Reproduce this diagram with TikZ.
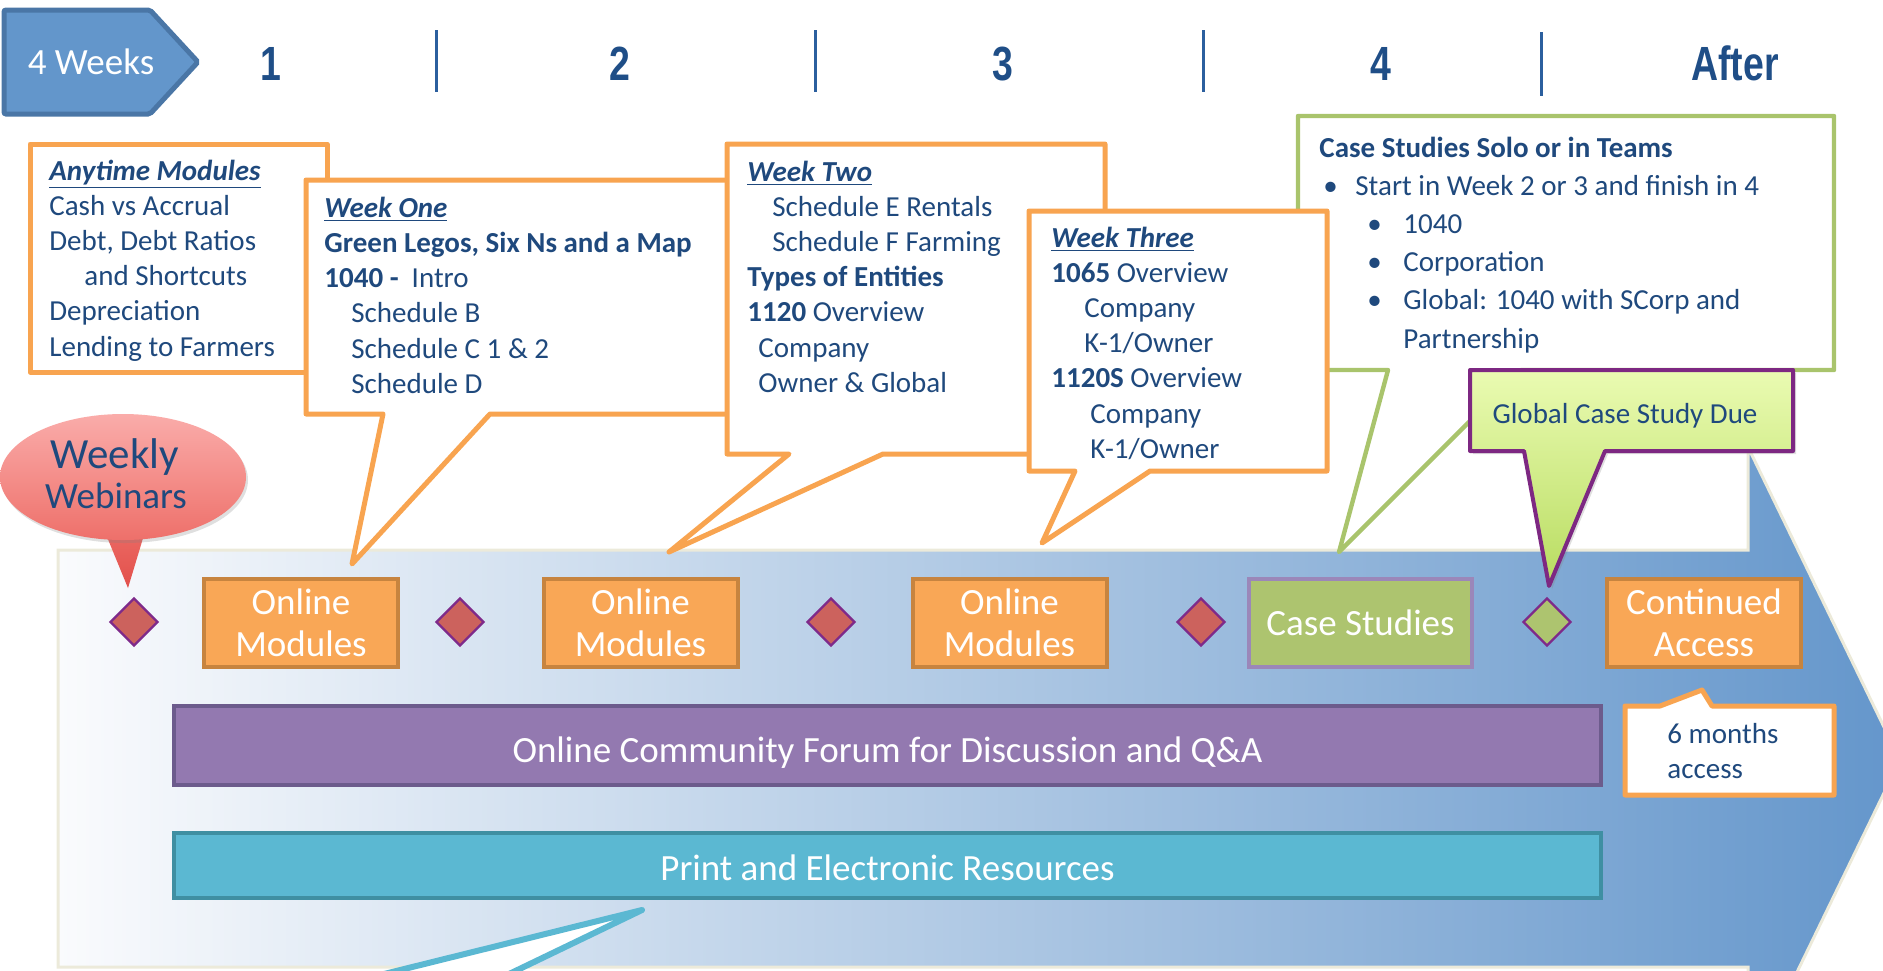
\documentclass[tikz,border=0pt]{standalone}
\usepackage{fontspec}
\setmainfont{Carlito}
\newfontfamily\hdfont{Liberation Sans}
\usetikzlibrary{shapes.geometric}
\usetikzlibrary{shadows}
\definecolor{navytext}{RGB}{31,73,125}
\definecolor{hdblue}{RGB}{31,78,135}
\definecolor{sepblue}{RGB}{43,95,158}
\definecolor{calorange}{RGB}{248,164,80}
\definecolor{calgreen}{RGB}{169,196,108}
\definecolor{modfill}{RGB}{249,167,86}
\definecolor{moddraw}{RGB}{199,132,63}
\definecolor{casefill}{RGB}{173,196,111}
\definecolor{casedraw}{RGB}{155,135,185}
\definecolor{gemfill}{RGB}{204,98,93}
\definecolor{gemdraw}{RGB}{126,42,138}
\definecolor{forumfill}{RGB}{147,121,176}
\definecolor{forumdraw}{RGB}{108,91,140}
\definecolor{resfill}{RGB}{91,184,210}
\definecolor{resdraw}{RGB}{63,143,162}
\definecolor{wkfill}{RGB}{99,150,203}
\definecolor{wkdraw}{RGB}{74,118,166}
\definecolor{duedraw}{RGB}{125,40,130}
\definecolor{duetop}{RGB}{234,251,178}
\definecolor{duebot}{RGB}{184,220,96}
\definecolor{webtop}{RGB}{250,172,170}
\definecolor{webmid}{RGB}{238,112,106}
\definecolor{webbot}{RGB}{226,80,75}
\definecolor{arrowedge}{RGB}{236,234,218}
\definecolor{arrowleft}{RGB}{250,251,253}
\definecolor{arrowright}{RGB}{100,150,203}
\tikzset{
  boxtext/.style = {anchor=base west, inner sep=0pt, text=navytext, font=\fontsize{14.5}{17}\selectfont},
  bubble/.style = {draw=calorange, line width=2.5pt, line join=round, fill=white},
  module/.style = {draw=moddraw, fill=modfill, line width=2pt, text=white, align=center,
                   minimum width=97pt, minimum height=44pt, inner sep=0pt, font=\fontsize{18.5}{21}\selectfont},
  gem/.style = {diamond, aspect=1, draw=gemdraw, fill=gemfill, line width=1.2pt,
                minimum width=24pt, minimum height=24pt, inner sep=0pt},
  fullbar/.style = {line width=2pt, text=white, minimum width=713.5pt, inner sep=0pt, font=\fontsize{18.5}{21}\selectfont},
  weeknum/.style = {anchor=base, text=hdblue, font=\hdfont\bfseries\fontsize{24}{24}\selectfont},
  weeksep/.style = {draw=sepblue, line width=1.5pt},
}

\begin{document}
\begin{tikzpicture}[x=0.5pt, y=-0.5pt]
    \useasboundingbox (0,0) rectangle (1883,970);
    \clip (0,0) rectangle (1883,970);

    \path[draw=wkdraw, fill=wkfill, line width=2.5pt, rounded corners=1pt] (4,10) -- (150,10) -- (198,62) -- (150,114) -- (4,114) -- cycle;
    \node[anchor=base, text=white, font=\fontsize{18.5}{21}\selectfont] (weeks) at (91,74) {4 Weeks};
    \node[weeknum] (h1) at (271,80) {\scalebox{0.78}[1]{1}};
    \node[weeknum] (h2) at (620,80) {\scalebox{0.78}[1]{2}};
    \node[weeknum] (h3) at (1003,80) {\scalebox{0.78}[1]{3}};
    \node[weeknum] (h4) at (1381,80) {\scalebox{0.78}[1]{4}};
    \node[weeknum] (hafter) at (1735,80) {\scalebox{0.78}[1]{After}};
    \draw[weeksep] (436,30) -- (436,92);
    \draw[weeksep] (815,30) -- (815,92);
    \draw[weeksep] (1203,30) -- (1203,92);
    \draw[weeksep] (1541,32) -- (1541,96);

    \path[draw=arrowedge, line width=1.5pt, left color=arrowleft, right color=arrowright]
      (58,550) -- (1748,550) -- (1748,447) -- (1900,760) -- (1748,1073) -- (1748,967) -- (58,967) -- cycle;

    \node[gem] (d1) at (134,622) {};
    \node[module] (om1) at (301,623) {Online\\Modules};
    \node[gem] (d2) at (460,622) {};
    \node[module] (om2) at (640.5,623) {Online\\Modules};
    \node[gem] (d3) at (831,622) {};
    \node[module] (om3) at (1009.5,623) {Online\\Modules};
    \node[gem] (d4) at (1201,622) {};
    \node[module, draw=casedraw, fill=casefill, minimum width=111.5pt] (casebox) at (1360.5,623) {Case Studies};
    \node[gem, fill=casefill] (d5) at (1547,622) {};
    \node[module] (ca) at (1704,623) {Continued\\Access};

    \node[fullbar, draw=forumdraw, fill=forumfill, minimum height=39.5pt, text height=17pt, text depth=0pt] (forum) at (887.5,745.5) {Online Community Forum for Discussion and Q\&A};
    \node[fullbar, draw=resdraw, fill=resfill, minimum height=32.5pt, text height=14.5pt, text depth=0pt] (res) at (887.5,865.5) {Print and Electronic Resources};

    \path[bubble] (30,144) rectangle (327,372);
    \foreach \dx/\t [count=\i] in {0/{\underline{\textbf{\textit{Anytime Modules}}}}, 0/Cash vs Accrual, 0/{Debt, Debt Ratios},
                                  35/and Shortcuts, 0/Depreciation, 0/Lending to Farmers}
      \node[boxtext] (any\i) at ({49+\dx}, {180+35.2*(\i-1)}) {\t};

    \path[bubble] (306,180) -- (735,180) -- (735,414) -- (490,414) -- (352,564) -- (383,414) -- (306,414) -- cycle;
    \foreach \dx/\t [count=\i] in {0/{\underline{\textbf{\textit{Week One}}}}, 0/{\textbf{Green Legos, Six Ns and a Map}},
                                  0/{\textbf{1040 -}\ \ Intro}, 27/Schedule B, 27/{Schedule C 1 \& 2}, 27/Schedule D}
      \node[boxtext] (one\i) at ({324+\dx}, {217+35.3*(\i-1)}) {\t};

    \path[bubble] (727,144) -- (1105,144) -- (1105,454) -- (883,454) -- (669,552) -- (789,454) -- (727,454) -- cycle;
    \foreach \dx/\t [count=\i] in {0/{\underline{\textbf{\textit{Week Two}}}}, 25/Schedule E Rentals, 25/Schedule F Farming,
                                  0/{\textbf{Types of Entities}}, 0/{\textbf{1120} Overview}, 11/Company, 11/{Owner \& Global}}
      \node[boxtext] (two\i) at ({747+\dx}, {181+35.2*(\i-1)}) {\t};

    \path[bubble, draw=calgreen, line width=2.2pt] (1298,116) -- (1834,116) -- (1834,370) -- (1521,370) -- (1339,552) -- (1388,370) -- (1298,370) -- cycle;
    \node[boxtext] (solo1) at (1319,157) {\textbf{Case Studies Solo or in Teams}};
    \node[boxtext] (solo2) at (1323,195) {\makebox[16pt][l]{\textbullet}Start in Week 2 or 3 and finish in 4};
    \foreach \t [count=\i from 3] in {1040, Corporation, Global: 1040 with SCorp and}
      \node[boxtext] (solo\i) at (1367, {157+38.2*(\i-1)}) {\makebox[18pt][l]{\textbullet}\t};
    \node[boxtext] (solo6) at (1403,348) {Partnership};

    \path[bubble] (1029,211) -- (1327,211) -- (1327,471) -- (1150,471) -- (1042,543) -- (1075,471) -- (1029,471) -- cycle;
    \foreach \dx/\t [count=\i] in {0/{\underline{\textbf{\textit{Week Three}}}}, 0/{\textbf{1065} Overview}, 33/Company, 33/{K-1/Owner},
                                  0/{\textbf{1120S} Overview}, 39/Company, 39/{K-1/Owner}}
      \node[boxtext] (three\i) at ({1051+\dx}, {247+35.2*(\i-1)}) {\t};

    \path[bubble] (1625,706) -- (1660,706) -- (1702,690) -- (1712,706) -- (1834,706) -- (1834,795) -- (1625,795) -- cycle;
    \node[boxtext] (six1) at (1667,743) {6 months};
    \node[boxtext] (six2) at (1667,778) {access};

    \path[bubble, draw=resfill, line width=3pt] (380,975) -- (642,910) -- (507,975);

    \shade[top color=webmid, bottom color=webbot] (98,515) -- (128,588) -- (150,515) -- cycle;
    \shade[top color=webtop, bottom color=webmid, drop shadow={opacity=0.25, shadow xshift=1pt, shadow yshift=-1.5pt}]
      (123,477) ellipse [x radius=123, y radius=63];
    \node[anchor=base, text=navytext, font=\fontsize{21.5}{24}\selectfont] (weekly) at (115,468) {Weekly};
    \node[anchor=base, text=navytext, font=\fontsize{18.5}{21}\selectfont] (webinars) at (116,508) {Webinars};

    \path[draw=duedraw, line width=2pt, line join=round, top color=duetop, bottom color=duebot,
          drop shadow={opacity=0.25, shadow xshift=1.5pt, shadow yshift=-1.5pt}]
      (1470,370) -- (1793,370) -- (1793,451) -- (1605,451) -- (1549,586) -- (1524,451) -- (1470,451) -- cycle;
    \node[anchor=base, text=navytext, font=\fontsize{14.5}{17}\selectfont] (due) at (1625,423) {Global Case Study Due};
\end{tikzpicture}
\end{document}
